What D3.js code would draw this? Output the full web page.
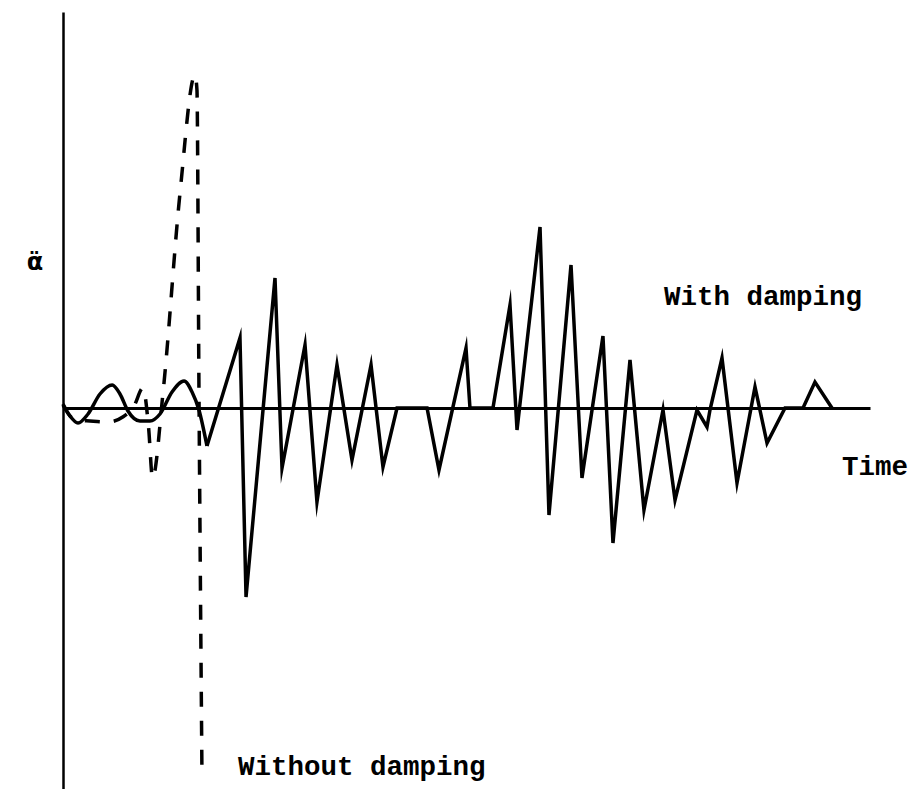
<!DOCTYPE html>
<html>
<head>
<meta charset="utf-8">
<script src="https://cdnjs.cloudflare.com/ajax/libs/d3/7.8.5/d3.min.js"></script>
<style>
body { margin: 0; background: #fff; }
.lbl { font-family: "Liberation Mono", "Courier New", monospace; font-weight: bold; fill: #000; }
</style>
</head>
<body>
<script>
// time in arbitrary units 0..100, acceleration in arbitrary units
var earlyT = [0, 0.87, 1.86, 3.1, 4.58, 6.1, 7.06, 8.05, 9.54, 10.78, 12.02, 13.51, 15.0, 15.99, 16.85, 17.84];
var earlyA = [0.4, -0.8, -1.5, -0.6, 1.4, 2.3, 1.4, -0.3, -1.3, -1.3, -0.6, 1.6, 2.7, 1.6, -0.2, -3.8];

var lateT = [17.84, 21.93, 22.68, 26.27, 27.14, 29.99, 31.47, 33.95, 35.81, 38.17, 39.65, 41.39, 45.11, 46.59, 49.94, 50.43,
  53.28, 55.39, 56.26, 59.11, 60.22, 62.95, 64.31, 66.91, 68.15, 70.26, 71.99, 74.35, 75.84, 78.56, 79.8, 80.17,
  81.66, 83.52, 85.75, 87.24, 89.47, 91.7, 93.18, 95.29];
var lateA = [-3.8, 7.0, -18.9, 13.0, -6.0, 6.3, -9.4, 4.3, -5.2, 4.3, -5.9, 0, 0, -6.2, 6.0, 0,
  0, 10.3, -2.2, 18.1, -10.7, 14.3, -7.0, 7.2, -13.5, 4.8, -10.2, -0.2, -9.2, -0.2, -1.9, -0.2,
  5.0, -7.5, 2.1, -3.5, 0, 0, 2.6, 0];

var dashT = [0, 0.87, 1.86, 3.35, 5.6, 7.4, 8.8, 9.91, 10.6, 11.1, 12.39, 14.5, 16.36, 16.6, 16.85, 17.22];
var dashA = [0.3, -0.8, -1.2, -1.3, -1.4, -0.9, 0.2, 2.0, -1.9, -7.0, 1.5, 21.5, 33.3, 31.8, 1.5, -36.7];

var yLabel = "\u03B1\u0308";
var curveLabels = ["With damping", "Without damping"];
var xLabel = "Time";

var width = 915, height = 789;

var svg = d3.select("body").append("svg")
    .attr("width", width)
    .attr("height", height);

var x = d3.scaleLinear().domain([0, 100]).range([63, 870]),
    y = d3.scaleLinear().domain([-38.1, 39.6]).range([789, 12]);

function zip(t, a) {
  return t.map(function(d, i) { return {t: d, a: a[i]}; });
}

var smooth = d3.line()
    .curve(d3.curveMonotoneX)
    .x(function(d) { return x(d.t); })
    .y(function(d) { return y(d.a); });

var straight = d3.line()
    .x(function(d) { return x(d.t); })
    .y(function(d) { return y(d.a); });

// axes, no ticks
svg.append("g")
    .attr("transform", "translate(0," + y(0) + ")")
    .call(d3.axisBottom(x).ticks(0).tickSizeOuter(0))
    .select(".domain")
    .attr("stroke", "#000")
    .attr("stroke-width", 3);

svg.append("g")
    .attr("transform", "translate(" + x(0) + ",0)")
    .call(d3.axisLeft(y).ticks(0).tickSizeOuter(0))
    .select(".domain")
    .attr("stroke", "#000")
    .attr("stroke-width", 2.5);

// without damping
svg.append("path")
    .attr("fill", "none")
    .attr("stroke", "#000")
    .attr("stroke-width", 3.5)
    .attr("stroke-dasharray", "15,14")
    .attr("d", smooth(zip(dashT, dashA)));

// with damping
svg.append("path")
    .attr("fill", "none")
    .attr("stroke", "#000")
    .attr("stroke-width", 3.5)
    .attr("stroke-linejoin", "round")
    .attr("d", smooth(zip(earlyT, earlyA)));

svg.append("path")
    .attr("fill", "none")
    .attr("stroke", "#000")
    .attr("stroke-width", 3.5)
    .attr("stroke-linejoin", "miter")
    .attr("stroke-miterlimit", 10)
    .attr("d", straight(zip(lateT, lateA)));

// labels
svg.append("text")
    .attr("x", 35)
    .attr("y", 270)
    .attr("text-anchor", "middle")
    .style("font-family", "'DejaVu Sans', sans-serif")
    .style("font-weight", "bold")
    .style("font-size", "24px")
    .text(yLabel);

svg.append("text")
    .attr("class", "lbl")
    .attr("x", 664)
    .attr("y", 305)
    .style("font-size", "27.5px")
    .text(curveLabels[0]);

svg.append("text")
    .attr("class", "lbl")
    .attr("x", 238)
    .attr("y", 775)
    .style("font-size", "27.5px")
    .text(curveLabels[1]);

svg.append("text")
    .attr("class", "lbl")
    .attr("x", 842)
    .attr("y", 475)
    .style("font-size", "27.5px")
    .text(xLabel);
</script>
</body>
</html>
